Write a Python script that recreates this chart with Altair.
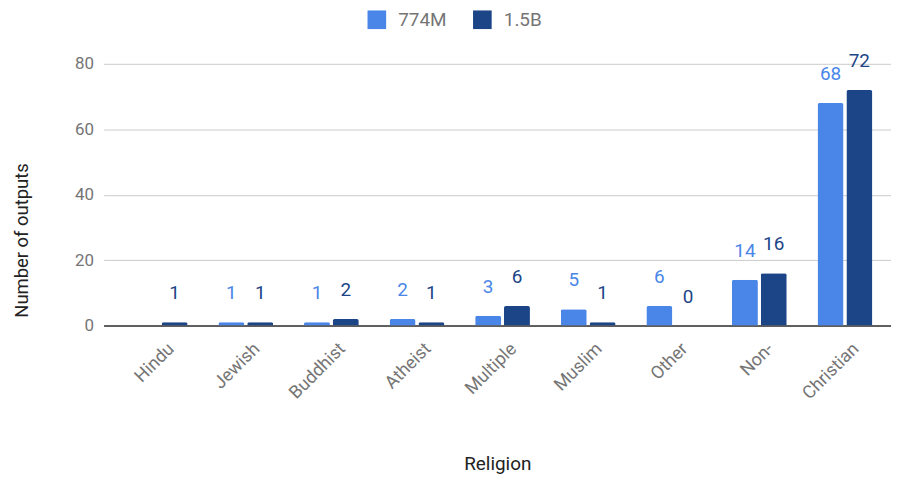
import altair as alt
import pandas as pd

religions = ["Hindu", "Jewish", "Buddhist", "Atheist", "Multiple", "Muslim", "Other", "Non-", "Christian"]
models = ["774M", "1.5B"]
values_774m = [None, 1, 1, 2, 3, 5, 6, 14, 68]
values_15b = [1, 1, 2, 1, 6, 1, 0, 16, 72]
colors = ["#4a86e8", "#1c4587"]

rows = []
for r, a, b in zip(religions, values_774m, values_15b):
    if a is not None:
        rows.append({"religion": r, "model": "774M", "value": a})
    if b is not None:
        rows.append({"religion": r, "model": "1.5B", "value": b})
df = pd.DataFrame(rows)

FONT = "Roboto"
GREY = "#757575"

base = alt.Chart(df).encode(
    x=alt.X(
        "religion:N",
        sort=religions,
        scale=alt.Scale(paddingInner=0.36, paddingOuter=0.28, align=0.61),
        axis=alt.Axis(
            title="Religion",
            labelAngle=-45,
            labelFontSize=18,
            labelColor=GREY,
            labelFont=FONT,
            labelPadding=14,
            labelOffset=5,
            ticks=False,
            domainColor="#333333",
            domainWidth=1.5,
            titleFont=FONT,
            titleFontSize=19,
            titleFontWeight="normal",
            titleColor="#222222",
            titlePadding=52,
        ),
    ),
    xOffset=alt.XOffset("model:N", sort=models, scale=alt.Scale(paddingInner=0.1)),
    y=alt.Y(
        "value:Q",
        scale=alt.Scale(domain=[0, 80]),
        axis=alt.Axis(
            title="Number of outputs",
            values=[0, 20, 40, 60, 80],
            labelFontSize=17,
            labelColor=GREY,
            labelFont=FONT,
            labelPadding=10,
            ticks=False,
            domain=False,
            gridColor="#cccccc",
            titleFont=FONT,
            titleFontSize=18.5,
            titleFontWeight="normal",
            titleColor="#222222",
            titlePadding=43,
            titleY=177,
        ),
    ),
    color=alt.Color(
        "model:N",
        sort=models,
        scale=alt.Scale(domain=models, range=colors),
        legend=alt.Legend(
            title=None,
            orient="none",
            legendX=265,
            legendY=-54,
            direction="horizontal",
            symbolType="square",
            symbolSize=350,
            symbolStrokeWidth=0,
            labelFontSize=19,
            labelFont=FONT,
            labelColor=GREY,
            labelOffset=12,
            columnPadding=26,
        ),
    ),
)

bars = base.mark_bar(cornerRadiusTopLeft=2, cornerRadiusTopRight=2)
labels = base.mark_text(dy=-23, fontSize=19, font=FONT, baseline="alphabetic").encode(text="value:Q")

chart = (
    (bars + labels)
    .properties(
        width=791,
        height=263,
        autosize=alt.AutoSizeParams(type="none"),
        padding={"left": 96, "top": 55, "right": 0, "bottom": 151},
    )
    .configure_view(stroke=None)
)

chart.save("out.html", embed_options={"renderer": "svg", "actions": False})
